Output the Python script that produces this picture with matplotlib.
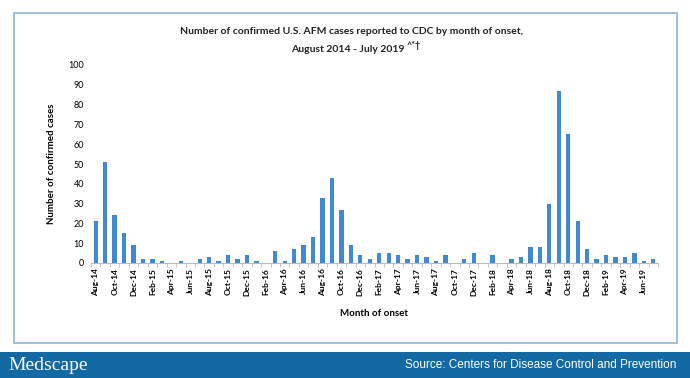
import numpy as np
from matplotlib import pyplot as plt
from matplotlib.patches import Rectangle

# months Aug-2014 .. Jul-2019
month_names = ['Jan', 'Feb', 'Mar', 'Apr', 'May', 'Jun',
               'Jul', 'Aug', 'Sep', 'Oct', 'Nov', 'Dec']
months = []
for i in range(60):
    m = (7 + i) % 12
    y = 14 + (7 + i) // 12
    months.append(month_names[m] + '-' + str(y))

cases = [21, 51, 24, 15, 9,
         2, 2, 1, 0, 1, 0, 2, 3, 1, 4, 2, 4,
         1, 0, 6, 1, 7, 9, 13, 33, 43, 27, 9, 4,
         2, 5, 5, 4, 2, 4, 3, 1, 4, 0, 2, 5,
         0, 4, 0, 2, 3, 8, 8, 30, 87, 65, 21, 7,
         2, 4, 3, 3, 5, 1, 2]

title_1 = 'Number of confirmed U.S. AFM cases reported to CDC by month of onset,'
title_2 = 'August 2014 - July 2019'
title_sup = '^*\u2020'

plt.rcParams['font.family'] = ['Lato', 'DejaVu Sans']

fig = plt.figure(figsize=(6.9, 3.78), dpi=100)

# outer frame and footer band
fig.patches.append(Rectangle((14 / 690, 1 - 343 / 378), 663 / 690, 330 / 378,
                             transform=fig.transFigure, fill=False,
                             edgecolor='#8fb3d8', linewidth=1.2))
fig.patches.append(Rectangle((0, 0), 1, 26 / 378, transform=fig.transFigure,
                             facecolor='#1269a3', edgecolor='none'))
fig.text(8 / 690, 13 / 378, 'Medscape', color='white', fontsize=14,
         family='Liberation Serif', va='center', ha='left')
fig.text(676 / 690, 13 / 378, 'Source: Centers for Disease Control and Prevention',
         color='white', fontsize=8.5, family='Liberation Sans', va='center', ha='right')

ax = fig.add_axes([91 / 690, 1 - 263 / 378, 567 / 690, 198 / 378])
x = np.arange(len(cases))
ax.bar(x, cases, width=0.45, color='#4189d2')
ax.set_xlim(-0.5, 59.5)
ax.set_ylim(0, 100)
ax.set_yticks(range(0, 101, 10))
ax.set_xticks(x[::2])
ax.set_xticklabels(months[::2], rotation=90, fontsize=6, fontweight='bold')
ax.set_xticks(np.arange(-0.5, 60, 1), minor=True)
ax.tick_params(axis='x', which='major', length=0, pad=4)
ax.tick_params(axis='x', which='minor', length=3, color='#bbbbbb')
ax.tick_params(axis='y', length=0, labelsize=6.5, pad=5)
for s in ['top', 'right', 'left']:
    ax.spines[s].set_visible(False)
ax.spines['bottom'].set_color('#bbbbbb')

ax.set_ylabel('Number of confirmed cases', fontsize=7, fontweight='bold', labelpad=9)
ax.set_xlabel('Month of onset', fontsize=7, fontweight='bold', labelpad=9)

# title, two lines with superscript marks
fig.text(352 / 690, 1 - 31 / 378, title_1, ha='center', va='center',
         fontsize=7.5, fontweight='bold', color='#222222')
t2 = fig.text(348 / 690, 1 - 50 / 378, title_2, ha='center', va='center',
              fontsize=7.5, fontweight='bold', color='#222222')
ax.annotate(title_sup, xy=(1, 1), xycoords=t2, xytext=(1, 0),
            textcoords='offset points', ha='left', va='center',
            fontsize=6.5, fontweight='bold', color='#222222')

fig.savefig('out.png', dpi=100)
